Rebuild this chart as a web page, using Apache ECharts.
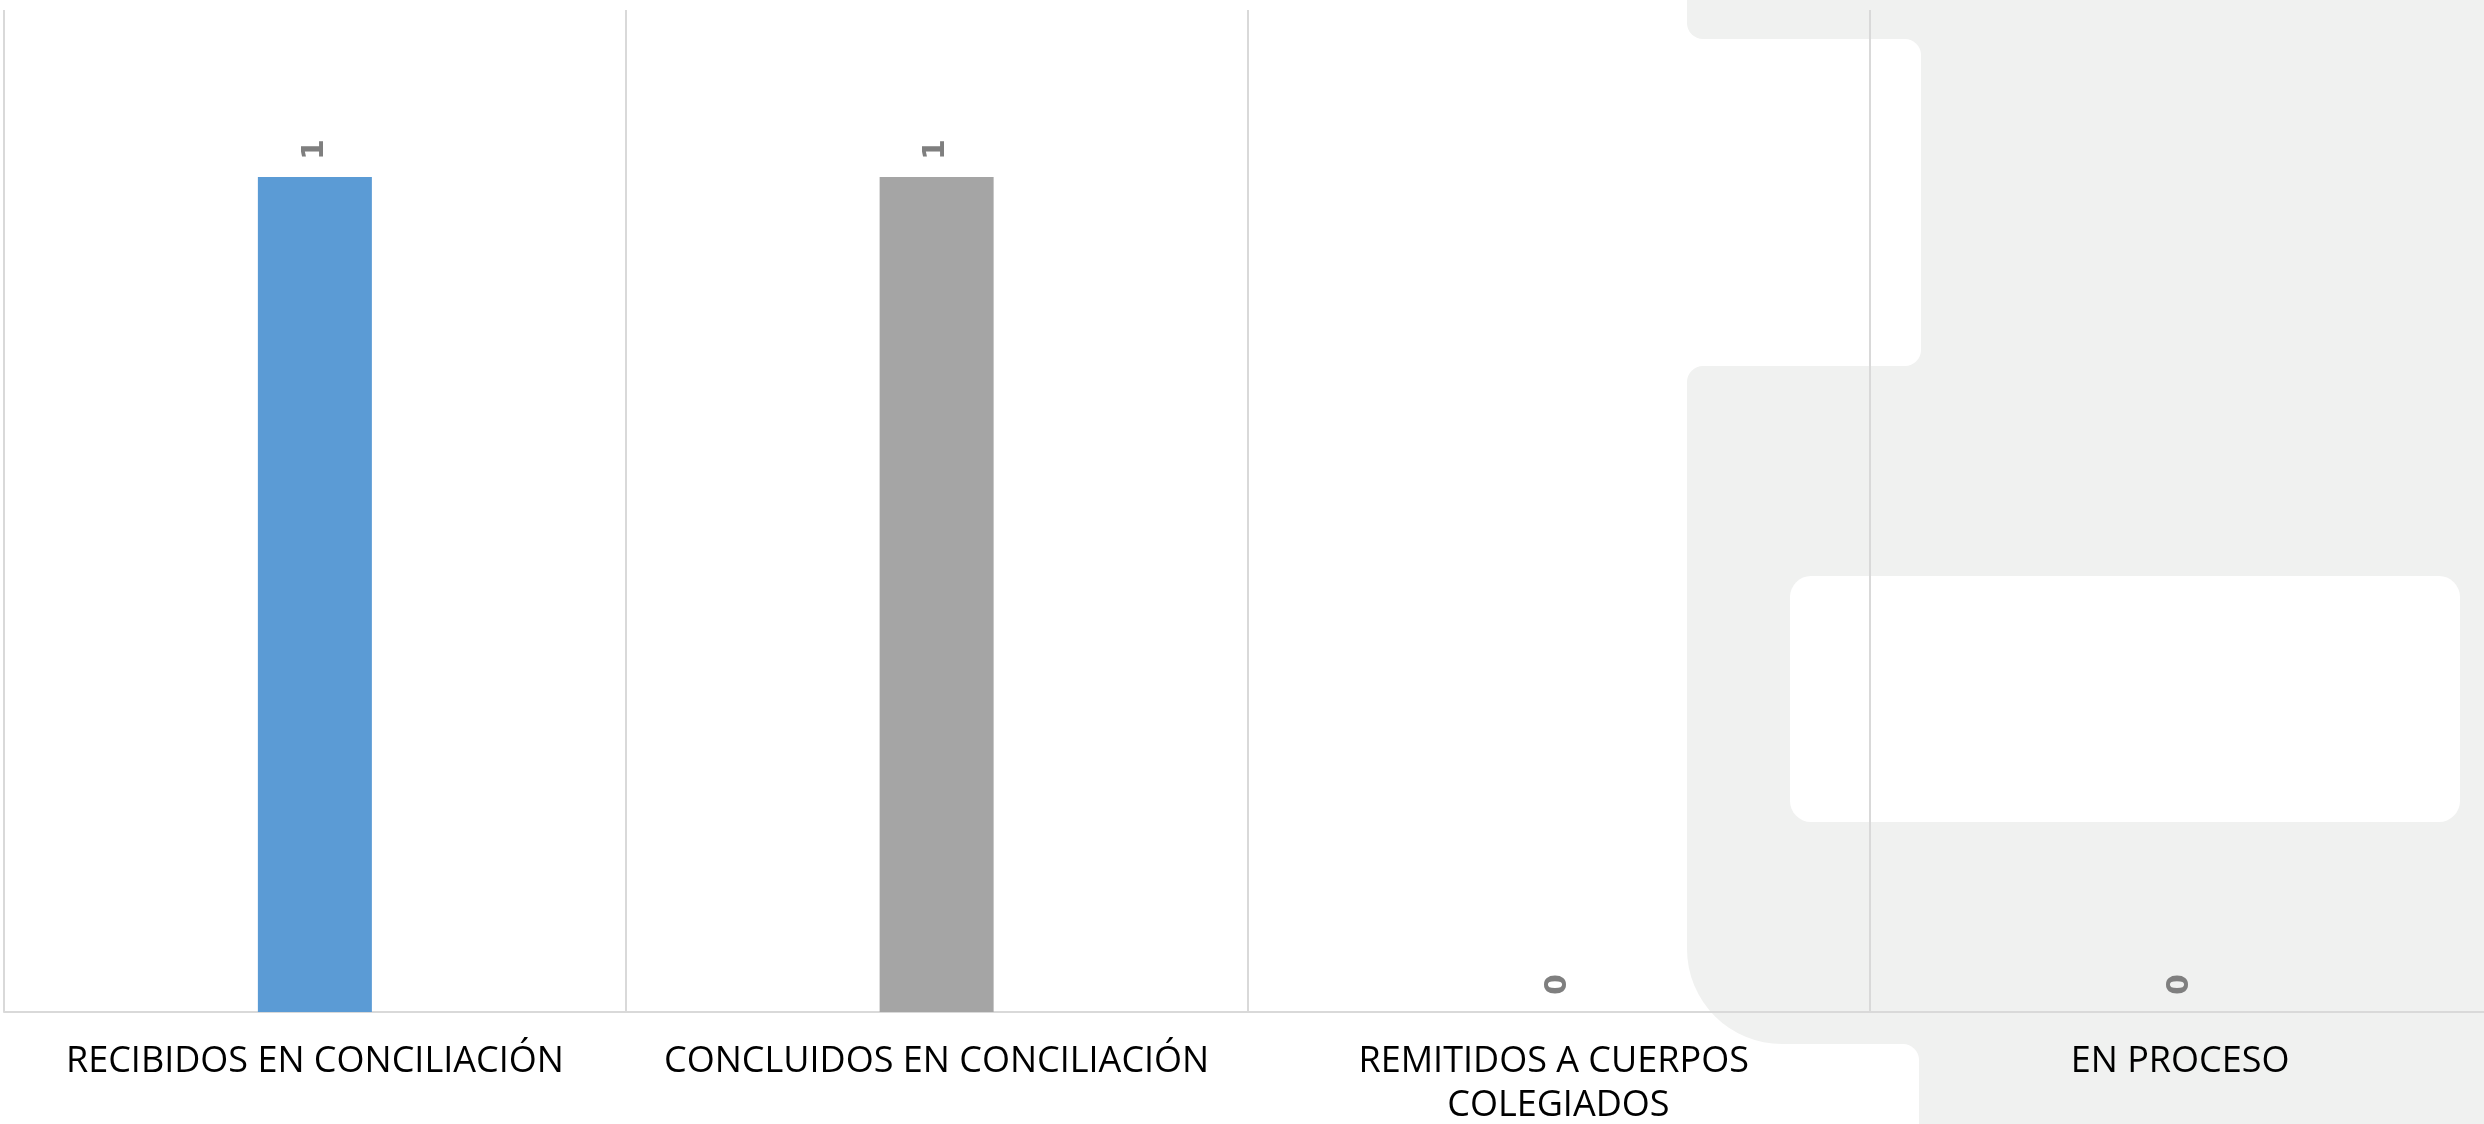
<!DOCTYPE html>
<html>
<head>
<meta charset="utf-8">
<script src="https://cdn.jsdelivr.net/npm/echarts@6/dist/echarts.min.js"></script>
<style>
html,body{margin:0;padding:0;background:#fff;}
#chart{width:2484px;height:1124px;}
</style>
</head>
<body>
<div id="chart"></div>
<script>
const categories = ['RECIBIDOS EN CONCILIACIÓN', 'CONCLUIDOS EN CONCILIACIÓN', 'REMITIDOS A CUERPOS COLEGIADOS', 'EN PROCESO'];
const values = [1, 1, 0, 0];
const barColors = ['#5B9BD5', '#A5A5A5', '#ED7D31', '#FFC000'];

const chart = echarts.init(document.getElementById('chart'), null, {renderer: 'canvas'});
const grey = '#F0F1F0';
const white = '#FFFFFF';

const option = {
  backgroundColor: '#FFFFFF',
  animation: false,
  graphic: [
    {type: 'rect', z: -10, shape: {x: 1687, y: 0, width: 800, height: 39, r: [0, 0, 0, 16]}, style: {fill: grey}},
    {type: 'rect', z: -10, shape: {x: 1900, y: 0, width: 590, height: 1124}, style: {fill: grey}},
    {type: 'rect', z: -10, shape: {x: 1687, y: 366, width: 800, height: 678, r: [16, 0, 0, 95]}, style: {fill: grey}},
    {type: 'rect', z: -9, shape: {x: 1600, y: 39, width: 321, height: 327, r: 16}, style: {fill: white}},
    {type: 'rect', z: -9, shape: {x: 1600, y: 1044, width: 319, height: 100, r: [0, 16, 0, 0]}, style: {fill: white}},
    {type: 'rect', z: -9, shape: {x: 1790, y: 576, width: 670, height: 246, r: 21}, style: {fill: white}}
  ],
  grid: {left: 4, right: -7, top: 10, bottom: 112, containLabel: false, outerBoundsMode: 'none'},
  xAxis: {
    type: 'category',
    data: categories,
    axisLine: {show: true, lineStyle: {color: '#D9D9D9', width: 2}},
    axisTick: {show: false},
    splitLine: {show: true, lineStyle: {color: '#D9D9D9', width: 2}},
    axisLabel: {
      interval: 0,
      margin: 28,
      width: 560,
      overflow: 'break',
      lineHeight: 44,
      fontFamily: 'Open Sans',
      fontSize: 36,
      color: '#000000'
    }
  },
  yAxis: {
    type: 'value',
    min: 0,
    max: 1.2,
    show: false,
    splitLine: {show: false}
  },
  series: [{
    type: 'bar',
    barWidth: 114,
    data: values.map((v, i) => ({value: v, itemStyle: {color: barColors[i]}})),
    label: {
      show: true,
      position: 'top',
      distance: 17,
      rotate: 90,
      align: 'left',
      verticalAlign: 'middle',
      padding: [6, 0, 0, 0],
      fontFamily: 'DejaVu Sans',
      fontWeight: 'bold',
      fontSize: 30,
      color: '#7F7F7F'
    }
  }]
};
chart.setOption(option);
</script>
</body>
</html>
